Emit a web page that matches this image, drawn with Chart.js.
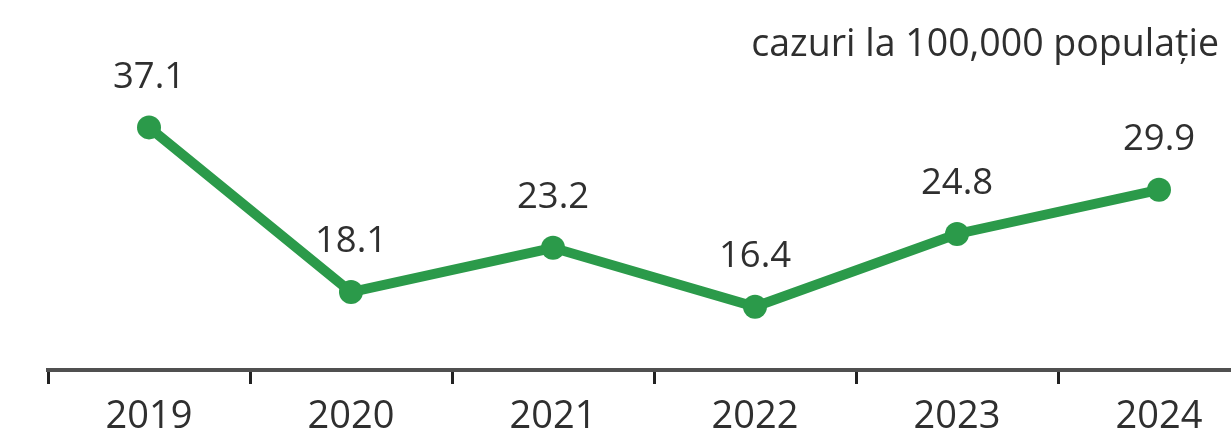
<!DOCTYPE html>
<html>
<head>
<meta charset="utf-8">
<script src="https://cdn.jsdelivr.net/npm/chart.js@4/dist/chart.umd.min.js"></script>
<style>
html,body{margin:0;padding:0;background:#fff;overflow:hidden;width:1231px;height:430px;}
canvas{display:block;}
</style>
</head>
<body>
<canvas id="c" width="1262" height="430"></canvas>
<script>
const categories = ["2019", "2020", "2021", "2022", "2023", "2024"];
const rates = [37.1, 18.1, 23.2, 16.4, 24.8, 29.9];
const valueLabels = ["37.1", "18.1", "23.2", "16.4", "24.8", "29.9"];
const unitLabel = "cazuri la 100,000 populație";

const FONT = "'Open Sans', sans-serif";
const GREEN = "#2b9a4a";
const TEXT = "#2f2f2f";

const labelPlugin = {
  id: "valueLabels",
  afterDatasetsDraw(chart) {
    const ctx = chart.ctx;
    const meta = chart.getDatasetMeta(0);
    ctx.save();
    ctx.font = "36.5px " + FONT;
    ctx.fillStyle = TEXT;
    ctx.textAlign = "center";
    ctx.textBaseline = "middle";
    meta.data.forEach((pt, i) => {
      ctx.fillText(valueLabels[i], pt.x, pt.y - 50);
    });
    ctx.font = "37.5px " + FONT;
    ctx.textAlign = "right";
    ctx.textBaseline = "alphabetic";
    ctx.fillText(unitLabel, 1219, 56);
    ctx.restore();
  }
};

new Chart(document.getElementById("c"), {
  type: "line",
  data: {
    labels: categories,
    datasets: [{
      data: rates,
      borderColor: GREEN,
      backgroundColor: GREEN,
      borderWidth: 10,
      pointRadius: 12,
      pointHoverRadius: 12,
      pointBackgroundColor: GREEN,
      pointBorderWidth: 0,
      tension: 0,
      fill: false
    }]
  },
  options: {
    responsive: false,
    animation: false,
    devicePixelRatio: 1,
    layout: { autoPadding: false, padding: { left: 48, right: 2, top: 0, bottom: 0 } },
    plugins: { legend: { display: false }, tooltip: { enabled: false } },
    scales: {
      x: {
        offset: true,
        afterFit(s) { s.height = 60; },
        grid: {
          offset: true,
          drawOnChartArea: false,
          drawTicks: true,
          tickLength: 14,
          tickWidth: 3,
          tickColor: "#222"
        },
        border: { display: true, color: "#505050", width: 4 },
        ticks: {
          font: { family: FONT, size: 38 },
          color: TEXT,
          padding: 10,
          maxRotation: 0
        }
      },
      y: {
        display: false,
        min: 9.1,
        max: 51.8
      }
    }
  },
  plugins: [labelPlugin]
});
</script>
</body>
</html>
